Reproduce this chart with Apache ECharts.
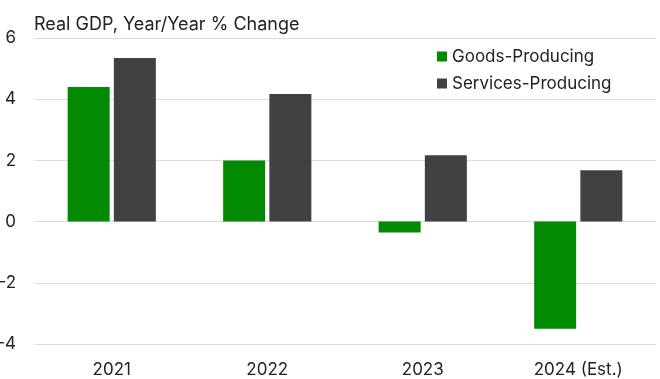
<!DOCTYPE html>
<html>
<head>
<meta charset="utf-8">
<script src="https://cdn.jsdelivr.net/npm/echarts@6/dist/echarts.min.js"></script>
<style>
  html, body { margin: 0; padding: 0; background: #fff; }
  #chart { width: 660px; height: 379px; }
</style>
</head>
<body>
<div id="chart"></div>
<script>
// Real GDP growth by sector, year over year
const years = ['2021', '2022', '2023', '2024 (Est.)'];
const goodsProducing = [4.4, 2.0, -0.36, -3.5];
const servicesProducing = [5.35, 4.17, 2.17, 1.68];
const seriesNames = ['Goods-Producing', 'Services-Producing'];
const chartTitle = 'Real GDP, Year/Year % Change';

const FONT = 'Inter, "Noto Sans", sans-serif';
const TEXT = '#222222';

const chart = echarts.init(document.getElementById('chart'));
chart.setOption({
  animation: false,
  title: {
    text: chartTitle,
    left: 34,
    top: 16,
    padding: 0,
    textStyle: { fontFamily: FONT, fontSize: 18, fontWeight: 'normal', color: TEXT }
  },
  legend: {
    orient: 'vertical',
    left: 437,
    top: 48,
    padding: 0,
    itemWidth: 10,
    itemHeight: 10,
    itemGap: 10,
    icon: 'rect',
    textStyle: { fontFamily: FONT, fontSize: 17, color: TEXT },
    data: seriesNames
  },
  grid: { left: 34, right: 4, top: 38, bottom: 35, outerBoundsMode: 'none', containLabel: false },
  xAxis: {
    type: 'category',
    data: years,
    axisLine: { show: false, onZero: false },
    axisTick: { show: false },
    axisLabel: { fontFamily: FONT, fontSize: 17, color: TEXT, margin: 17 }
  },
  yAxis: {
    type: 'value',
    min: -4,
    max: 6,
    interval: 2,
    axisLine: { show: false },
    axisTick: { show: false },
    axisLabel: { fontFamily: FONT, fontSize: 17, color: TEXT, margin: 18 },
    splitLine: { lineStyle: { color: '#dcdcdc', width: 1 } }
  },
  series: [
    {
      name: seriesNames[0],
      type: 'bar',
      data: goodsProducing,
      barWidth: 42,
      barGap: '10%',
      itemStyle: { color: '#028a02' }
    },
    {
      name: seriesNames[1],
      type: 'bar',
      data: servicesProducing,
      barWidth: 42,
      barGap: '10%',
      itemStyle: { color: '#414143' }
    }
  ]
});
</script>
</body>
</html>
